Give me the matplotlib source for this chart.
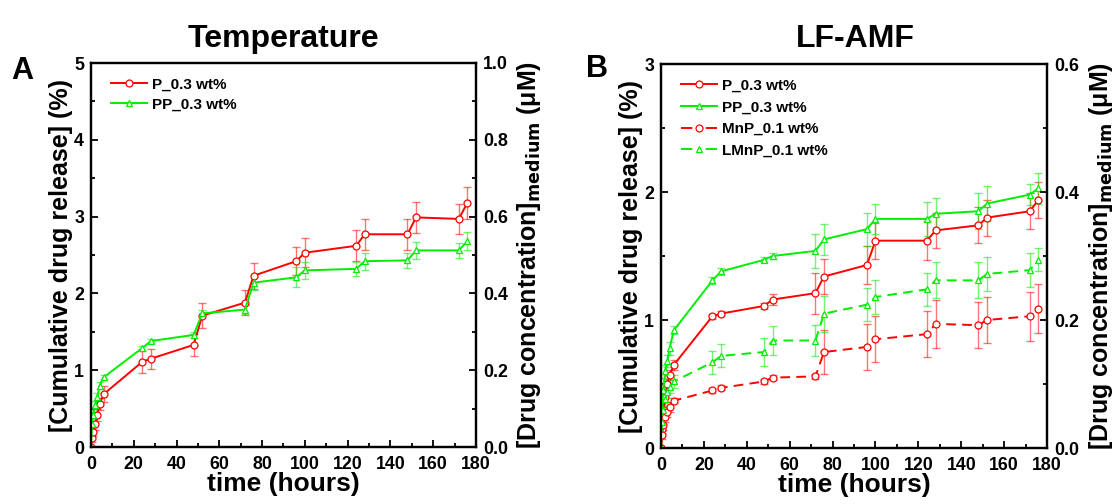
import matplotlib
matplotlib.use("Agg")
import matplotlib.pyplot as plt
from matplotlib.ticker import MultipleLocator, FormatStrFormatter

plt.rcParams['font.family'] = ['Liberation Sans', 'DejaVu Sans']
plt.rcParams['font.weight'] = 'bold'
plt.rcParams['mathtext.default'] = 'bf'

# ---------------- data ----------------
time_h = [0, 0.5, 1, 2, 3, 4, 6, 24, 28, 48, 52, 72, 76, 96, 100, 124, 128, 148, 152, 172, 176]

# Panel A (Temperature)
tempP = [0, 0.12, 0.2, 0.3, 0.42, 0.56, 0.69, 1.11, 1.15, 1.33, 1.71, 1.88, 2.23, 2.42, 2.53,
         2.62, 2.77, 2.77, 2.99, 2.97, 3.18]
tempP_err = [0, 0.05, 0.06, 0.08, 0.08, 0.08, 0.1, 0.14, 0.13, 0.14, 0.16, 0.16, 0.17, 0.18, 0.19,
             0.2, 0.2, 0.2, 0.2, 0.2, 0.21]
tempPP = [0, 0.3, 0.42, 0.55, 0.65, 0.8, 0.91, 1.29, 1.38, 1.46, 1.74, 1.79, 2.14, 2.21, 2.30,
          2.32, 2.42, 2.43, 2.56, 2.56, 2.68]
tempPP_err = [0, 0.04, 0.04, 0.05, 0.05, 0.05, 0.03, 0.03, 0.03, 0.04, 0.04, 0.06, 0.09, 0.13, 0.11,
              0.09, 0.11, 0.1, 0.11, 0.1, 0.12]

# Panel B (LF-AMF)
amfP = [0, 0.15, 0.28, 0.4, 0.5, 0.57, 0.65, 1.03, 1.05, 1.11, 1.16, 1.21, 1.34, 1.43, 1.62,
        1.62, 1.70, 1.74, 1.80, 1.85, 1.94]
amfP_err = [0, 0.03, 0.04, 0.04, 0.04, 0.04, 0.04, 0.02, 0.02, 0.02, 0.04, 0.16, 0.14, 0.15, 0.14,
            0.15, 0.14, 0.14, 0.14, 0.14, 0.14]
amfPP = [0, 0.3, 0.45, 0.6, 0.68, 0.78, 0.92, 1.31, 1.38, 1.47, 1.50, 1.54, 1.63, 1.71, 1.79,
         1.79, 1.83, 1.85, 1.91, 1.98, 2.03]
amfPP_err = [0, 0.04, 0.05, 0.05, 0.05, 0.05, 0.03, 0.03, 0.03, 0.02, 0.02, 0.13, 0.12, 0.13, 0.12,
             0.13, 0.12, 0.14, 0.14, 0.08, 0.12]
amfMnP = [0, 0.1, 0.18, 0.24, 0.28, 0.32, 0.37, 0.45, 0.47, 0.52, 0.55, 0.56, 0.75, 0.79, 0.85,
          0.89, 0.97, 0.96, 1.00, 1.03, 1.09]
amfMnP_err = [0, 0.03, 0.04, 0.04, 0.04, 0.04, 0.02, 0.02, 0.02, 0.02, 0.02, 0.02, 0.17, 0.18, 0.18,
              0.18, 0.19, 0.18, 0.18, 0.19, 0.19]
amfLMnP = [0, 0.2, 0.3, 0.38, 0.44, 0.48, 0.52, 0.67, 0.72, 0.75, 0.84, 0.84, 1.05, 1.12, 1.18,
           1.24, 1.31, 1.31, 1.36, 1.39, 1.47]
amfLMnP_err = [0, 0.04, 0.05, 0.05, 0.05, 0.05, 0.05, 0.09, 0.09, 0.11, 0.11, 0.12, 0.14, 0.13, 0.13,
               0.13, 0.14, 0.14, 0.13, 0.13, 0.09]

RED = '#ff0000'
GREEN = '#00ee00'
LW = 1.4

fig = plt.figure(figsize=(11.19, 5.04), dpi=100)


def style_axes(ax, ymax, ymajor, rmax):
    ax.set_xlim(0, 180)
    ax.set_ylim(0, ymax)
    ax.xaxis.set_major_locator(MultipleLocator(20))
    ax.xaxis.set_minor_locator(MultipleLocator(10))
    ax.yaxis.set_major_locator(MultipleLocator(ymajor))
    ax.yaxis.set_minor_locator(MultipleLocator(ymajor / 2))
    ax.tick_params(which='both', direction='in', top=False, right=False, labelsize=12.8)
    ax.tick_params(axis='x', pad=6.5)
    ax.tick_params(axis='y', pad=5)
    ax.tick_params(which='major', length=5, width=1.3)
    ax.tick_params(which='minor', length=3, width=1.3)
    for s in ax.spines.values():
        s.set_linewidth(1.6)
    for lab in ax.get_xticklabels() + ax.get_yticklabels():
        lab.set_fontweight('bold')
    ax.set_xlabel('time (hours)', fontsize=19, fontweight='bold', labelpad=-1)
    ax.set_ylabel('[Cumulative drug release] (%)', fontsize=18, fontweight='bold', labelpad=1)
    ax2 = ax.twinx()
    ax2.set_ylim(0, rmax)
    ax2.yaxis.set_major_locator(MultipleLocator(0.2))
    ax2.yaxis.set_minor_locator(MultipleLocator(0.1))
    ax2.tick_params(which='both', direction='in', labelsize=12.8, pad=5)
    ax2.tick_params(which='major', length=5, width=1.3)
    ax2.tick_params(which='minor', length=3, width=1.3)
    ax2.yaxis.set_major_formatter(FormatStrFormatter('%.1f'))
    for lab in ax2.get_yticklabels():
        lab.set_fontweight('bold')
    ax2.set_ylabel(r'[Drug concentration]$_{\mathbf{medium}}$ (μM)', fontsize=18,
                   fontweight='bold', rotation=90, labelpad=5.5)
    for s in ax2.spines.values():
        s.set_linewidth(1.6)


def series(ax, y, err, color, marker, ls, label):
    ax.errorbar(time_h, y, yerr=err, fmt='none', ecolor=color, alpha=0.55,
                elinewidth=1.0, capsize=3, capthick=1.0, zorder=2)
    kw = dict(dashes=(5, 3.2)) if ls == '--' else {}
    ax.plot(time_h, y, color=color, ls=ls, lw=LW, marker=marker, markersize=5,
            markerfacecolor='white', markeredgecolor=color, markeredgewidth=0.9,
            label=label, zorder=3, **kw)


def add_legend(ax, spacing, dashed_idx):
    leg = ax.legend(loc='upper left', frameon=False, handlelength=2.35,
                    handletextpad=0.35, labelspacing=spacing, borderaxespad=0,
                    borderpad=0, bbox_to_anchor=(0.052, 0.962),
                    prop={'weight': 'bold', 'size': 11})
    for i, ln in enumerate(leg.get_lines()):
        if i in dashed_idx:
            ln.set_dashes((5.8, 6.9))
    return leg


axA = fig.add_axes([0.0813, 0.113, 0.344, 0.762])
series(axA, tempP, tempP_err, RED, 'o', '-', 'P_0.3 wt%')
series(axA, tempPP, tempPP_err, GREEN, '^', '-', 'PP_0.3 wt%')
style_axes(axA, 5, 1, 1.0)
add_legend(axA, 0.38, [])

axB = fig.add_axes([0.5907, 0.111, 0.345, 0.762])
series(axB, amfP, amfP_err, RED, 'o', '-', 'P_0.3 wt%')
series(axB, amfPP, amfPP_err, GREEN, '^', '-', 'PP_0.3 wt%')
series(axB, amfMnP, amfMnP_err, RED, 'o', '--', 'MnP_0.1 wt%')
series(axB, amfLMnP, amfLMnP_err, GREEN, '^', '--', 'LMnP_0.1 wt%')
style_axes(axB, 3, 1, 0.6)
add_legend(axB, 0.5, [2, 3])

fig.text(283 / 1119, 1 - 47 / 504, 'Temperature', fontsize=23, fontweight='bold',
         ha='center', va='baseline')
fig.text(855 / 1119, 1 - 47 / 504, 'LF-AMF', fontsize=23, fontweight='bold',
         ha='center', va='baseline')
fig.text(22 / 1119, 1 - 79 / 504, 'A', fontsize=22, fontweight='bold', ha='center', va='baseline')
fig.text(597 / 1119, 1 - 77 / 504, 'B', fontsize=22, fontweight='bold', ha='center', va='baseline')

fig.savefig('out.png', dpi=100)
